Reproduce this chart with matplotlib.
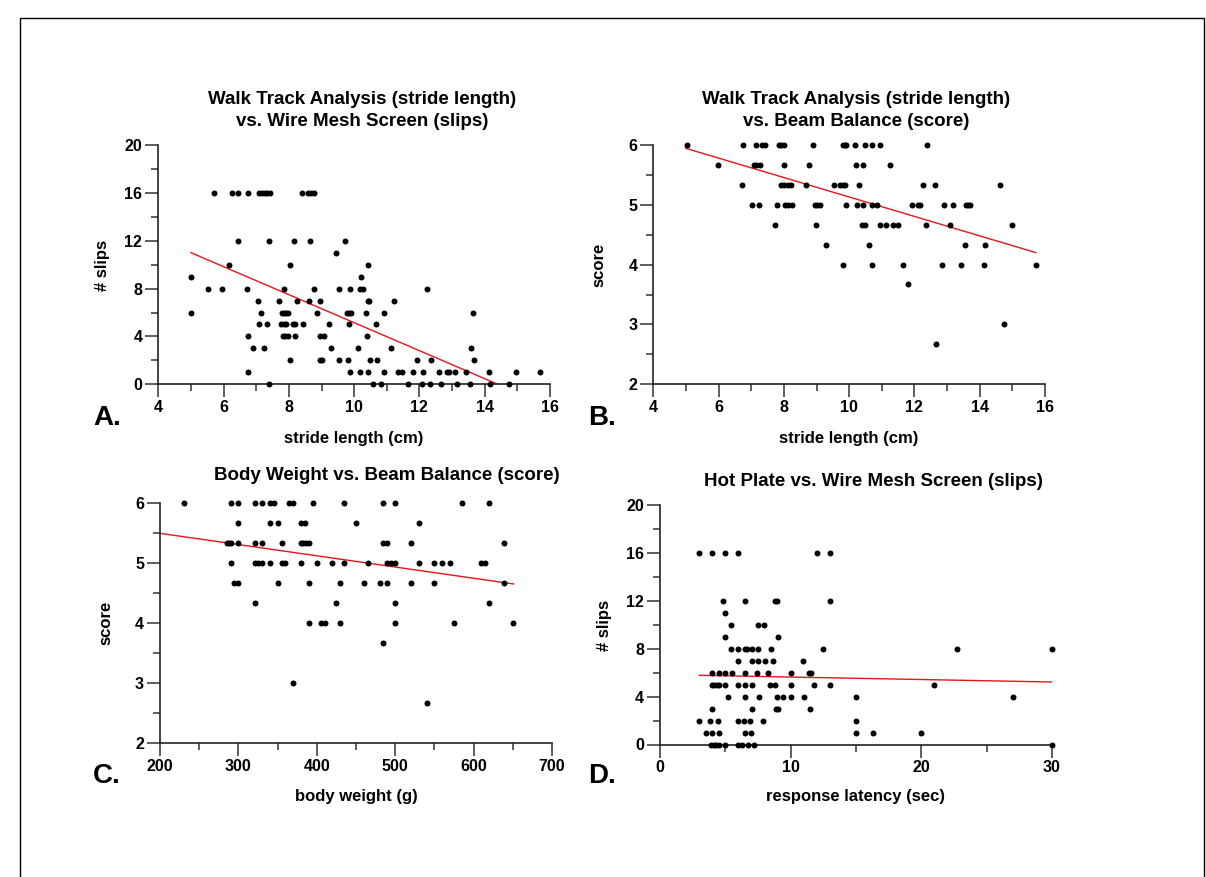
import numpy as np
import matplotlib
matplotlib.use("Agg")
import matplotlib.pyplot as plt
from matplotlib.ticker import MultipleLocator
from matplotlib.patches import Rectangle

plt.rcParams['font.family'] = ['Liberation Sans', 'DejaVu Sans']
plt.rcParams['font.weight'] = 'bold'

# ---- A: stride length vs slips (x values grouped by slip count) ----
a_levels = [16, 12, 11, 10, 9, 8, 7, 6, 5, 4, 3, 2, 1, 0]
a_stride = [
    [5.71, 6.27, 6.45, 6.76, 7.08, 7.17, 7.27, 7.34, 7.43, 8.40, 8.59, 8.68, 8.76],
    [6.45, 7.40, 8.15, 8.64, 9.72],
    [9.44],
    [6.16, 8.03, 10.42],
    [5.01, 10.22],
    [5.52, 5.96, 6.71, 7.85, 8.77, 9.54, 9.86, 10.19, 10.26, 12.23],
    [7.06, 7.70, 8.26, 8.61, 8.94, 10.42, 10.46, 11.22],
    [5.0, 7.14, 7.80, 7.86, 7.92, 7.98, 8.87, 9.78, 9.84, 9.91, 10.36, 10.91, 13.63],
    [7.09, 7.34, 7.76, 7.86, 7.91, 8.13, 8.19, 8.44, 9.22, 9.85, 10.67],
    [6.75, 7.83, 7.89, 7.97, 8.19, 8.96, 9.08, 10.39],
    [6.91, 7.23, 9.28, 10.11, 11.12, 13.57],
    [8.03, 8.96, 9.03, 9.53, 9.80, 10.48, 10.69, 11.94, 12.36, 13.67],
    [6.75, 9.88, 10.17, 10.42, 10.92, 11.35, 11.47, 11.80, 12.12, 12.61, 12.83,
     12.90, 13.09, 13.43, 14.12, 14.97, 15.69],
    [7.40, 10.59, 10.82, 11.65, 12.08, 12.32, 12.67, 13.16, 13.56, 14.16, 14.74],
]
a_fit = (-1.17, 16.85)      # slope, intercept
a_fit_x = (5.0, 15.7)

# ---- B: stride length vs beam balance score ----
b_levels = [6, 5.67, 5.33, 5, 4.67, 4.33, 4, 3.67, 3, 2.67]
b_stride = [
    [5.02, 6.76, 7.14, 7.33, 7.42, 7.85, 7.91, 7.99, 8.89, 9.81, 9.87, 9.91,
     10.18, 10.48, 10.69, 10.93, 12.38],
    [5.97, 7.08, 7.16, 7.27, 7.99, 8.78, 10.22, 10.41, 11.24],
    [6.71, 7.91, 8.0, 8.13, 8.22, 8.67, 9.53, 9.72, 9.80, 9.88, 10.29, 12.25,
     12.63, 14.61],
    [7.03, 7.24, 7.80, 8.04, 8.13, 8.25, 8.96, 9.02, 9.10, 9.89, 10.23, 10.43,
     10.69, 10.84, 11.94, 12.11, 12.16, 12.91, 13.18, 13.57, 13.63, 13.69],
    [7.72, 8.98, 10.38, 10.48, 10.93, 11.14, 11.35, 11.50, 12.35, 13.10, 14.98],
    [9.29, 10.60, 13.56, 14.16],
    [9.81, 10.70, 11.65, 12.85, 13.44, 14.13, 15.71],
    [11.81],
    [14.75],
    [12.67],
]
b_fit = (-0.1625, 6.756)
b_fit_x = (5.0, 15.72)

# ---- C: body weight vs beam balance score ----
c_levels = [6, 5.67, 5.33, 5, 4.67, 4.33, 4, 3.67, 3, 2.67]
c_weight = [
    [230, 290, 300, 321, 330, 340, 345, 365, 370, 395, 435, 485, 500, 585, 620],
    [300, 340, 350, 380, 385, 450, 530],
    [285, 288, 290, 300, 321, 330, 355, 380, 383, 386, 390, 485, 490, 520, 639],
    [290, 321, 325, 330, 340, 355, 360, 380, 400, 420, 435, 465, 489, 495, 500,
     530, 550, 560, 570, 610, 615],
    [295, 300, 350, 390, 430, 460, 480, 490, 520, 550, 639],
    [321, 425, 500, 620],
    [390, 405, 410, 430, 500, 575, 650],
    [485],
    [370],
    [540],
]
c_fit = (-0.001872, 5.864)
c_fit_x = (200, 651)

# ---- D: hot plate latency vs slips ----
d_levels = [16, 12, 11, 10, 9, 8, 7, 6, 5, 4, 3, 2, 1, 0]
d_latency = [
    [3.0, 4.0, 5.0, 6.0, 12.0, 13.0],
    [4.8, 6.48, 8.8, 8.93, 13.0],
    [4.97],
    [5.4, 7.47, 7.97],
    [4.97, 9.0],
    [5.4, 6.0, 6.5, 6.63, 7.02, 7.5, 8.49, 12.47, 22.7, 30.0],
    [6.0, 7.02, 7.5, 8.0, 8.67, 10.97],
    [4.0, 4.51, 5.0, 5.5, 6.5, 7.4, 8.3, 10.0, 11.4, 11.58],
    [3.95, 4.15, 4.35, 4.52, 5.0, 6.0, 6.5, 7.02, 8.45, 8.77, 10.0, 11.78, 13.0, 21.0],
    [5.18, 6.48, 7.57, 8.98, 9.39, 10.0, 11.0, 14.97, 26.98],
    [4.0, 7.02, 8.88, 9.03, 11.48],
    [3.0, 3.85, 4.45, 6.0, 6.4, 6.9, 7.9, 14.97],
    [3.5, 4.0, 4.5, 6.5, 7.0, 15.0, 16.3, 20.0],
    [3.9, 4.1, 4.3, 4.5, 5.0, 6.0, 6.3, 6.7, 7.2, 30.0],
]
d_fit = (-0.0207, 5.84)
d_fit_x = (3.0, 30.0)


def flatten(levels, rows):
    xs, ys = [], []
    for lev, row in zip(levels, rows):
        xs += row
        ys += [lev] * len(row)
    return np.array(xs), np.array(ys)


def panel(rect, levels, rows, fit, fit_x, xlim, ylim, xmaj, xmin, ymaj, ymin):
    ax = fig.add_axes(rect)
    x, y = flatten(levels, rows)
    ax.plot(x, y, 'o', color='black', ms=4.3, mec='none', clip_on=False, zorder=3)
    fx = np.array(fit_x)
    ax.plot(fx, fit[0] * fx + fit[1], color='#e8141b', lw=1.0, zorder=2)
    ax.set_xlim(xlim)
    ax.set_ylim(ylim)
    ax.xaxis.set_major_locator(MultipleLocator(xmaj))
    ax.xaxis.set_minor_locator(MultipleLocator(xmin))
    ax.yaxis.set_major_locator(MultipleLocator(ymaj))
    ax.yaxis.set_minor_locator(MultipleLocator(ymin))
    for s in ['top', 'right']:
        ax.spines[s].set_visible(False)
    for s in ['left', 'bottom']:
        ax.spines[s].set_linewidth(1.2)
        ax.spines[s].set_color('#222222')
    ax.tick_params(which='major', length=9.5, width=1.1, color='#333333',
                   labelsize=11.5, pad=2)
    ax.tick_params(which='minor', length=5, width=1.1, color='#333333')
    ax.patch.set_alpha(0)
    return ax


W, H = 1206, 877
fig = plt.figure(figsize=(W / 100, H / 100), dpi=100)


def rect(x0, x1, y0, y1):
    return [x0 / W, 1 - y1 / H, (x1 - x0) / W, (y1 - y0) / H]


def txt(x, y, s, **kw):
    fig.text(x / W, 1 - y / H, s, **kw)


panel(rect(158.3, 550, 145, 384.3), a_levels, a_stride, a_fit, a_fit_x,
      (4, 16), (0, 20), 2, 1, 4, 2)
panel(rect(653.3, 1045, 145, 384.3), b_levels, b_stride, b_fit, b_fit_x,
      (4, 16), (2, 6), 2, 1, 1, 0.5)
panel(rect(160, 552, 502.7, 742.7), c_levels, c_weight, c_fit, c_fit_x,
      (200, 700), (2, 6), 100, 50, 1, 0.5)
panel(rect(660, 1052, 505, 744.5), d_levels, d_latency, d_fit, d_fit_x,
      (0, 30), (0, 20), 10, 5, 4, 2)

# titles
tfs = 13.5
txt(362, 104, 'Walk Track Analysis (stride length)', ha='center', va='baseline', fontsize=tfs)
txt(362, 126, 'vs. Wire Mesh Screen (slips)', ha='center', va='baseline', fontsize=tfs)
txt(856, 104, 'Walk Track Analysis (stride length)', ha='center', va='baseline', fontsize=tfs)
txt(856, 126, 'vs. Beam Balance (score)', ha='center', va='baseline', fontsize=tfs)
txt(387, 480, 'Body Weight vs. Beam Balance (score)', ha='center', va='baseline', fontsize=tfs)
txt(873, 486, 'Hot Plate vs. Wire Mesh Screen (slips)', ha='center', va='baseline', fontsize=tfs)

# axis labels
lfs = 12
txt(354, 438, 'stride length (cm)', ha='center', va='center', fontsize=lfs)
txt(849, 438, 'stride length (cm)', ha='center', va='center', fontsize=lfs)
txt(356, 797, 'body weight (g)', ha='center', va='center', fontsize=lfs)
txt(856, 797, 'response latency (sec)', ha='center', va='center', fontsize=lfs)
txt(103, 265, '# slips', ha='center', va='center', rotation=90, fontsize=lfs)
txt(599, 265, 'score', ha='center', va='center', rotation=90, fontsize=lfs)
txt(106, 623, 'score', ha='center', va='center', rotation=90, fontsize=lfs)
txt(605, 625, '# slips', ha='center', va='center', rotation=90, fontsize=lfs)

# panel letters
pfs = 20
txt(93, 418, 'A.', ha='left', va='center', fontsize=pfs)
txt(588, 418, 'B.', ha='left', va='center', fontsize=pfs)
txt(93, 776, 'C.', ha='left', va='center', fontsize=pfs)
txt(588, 776, 'D.', ha='left', va='center', fontsize=pfs)

# outer frame
fig.patches.append(Rectangle((20 / W, -0.01), (1204 - 20) / W, 1 - 18 / H + 0.01,
                             transform=fig.transFigure, fill=False,
                             edgecolor='black', lw=1.0))

fig.savefig('out.png', dpi=100)
